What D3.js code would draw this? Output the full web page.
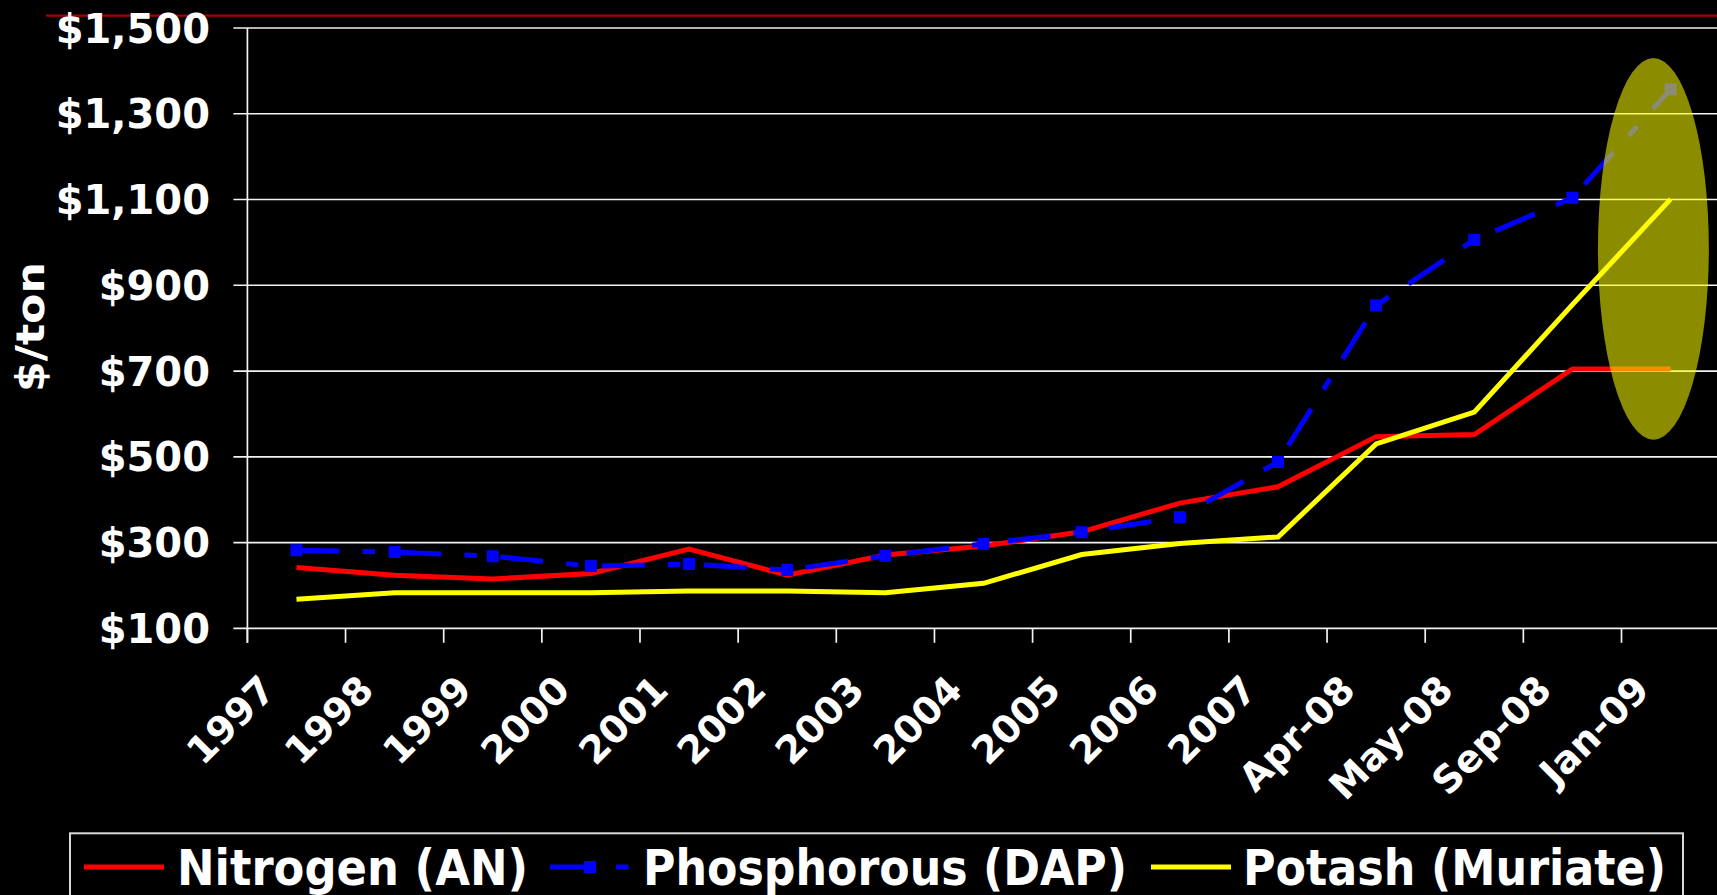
<!DOCTYPE html>
<html>
<head>
<meta charset="utf-8">
<script src="https://cdn.jsdelivr.net/npm/d3@7"></script>
<style>
  html, body { margin: 0; padding: 0; background: #000; overflow: hidden; }
  svg { display: block; }
  text { font-family: "DejaVu Sans", Verdana, sans-serif; font-weight: bold; fill: #fff; }
</style>
</head>
<body>
<svg id="chart" width="1717" height="895"></svg>
<script>
// ---- data ----
const categories = ["1997","1998","1999","2000","2001","2002","2003","2004","2005","2006","2007","Apr-08","May-08","Sep-08","Jan-09"];
const nitrogen    = [242, 224, 215, 228, 285, 224, 271, 292, 325, 392, 430, 547, 552, 705, 705];
const phosphorous = [282, 278, 268, 245, 250, 236, 269, 297, 324, 359, 488, 853, 1006, 1104, 1357];
const potash      = [168, 183, 183, 183, 187, 187, 183, 205, 272, 298, 313, 530, 604, 855, 1101];
const yTicks = [100, 300, 500, 700, 900, 1100, 1300, 1500];
const seriesNames = ["Nitrogen (AN)", "Phosphorous (DAP)", "Potash (Muriate)"];
const yTitle = "$/ton";
// highlighted region (annotation) in data terms
const highlightCategory = "Jan-09";
const highlightRange = [540, 1430];

// ---- layout ----
const svg = d3.select("#chart");
const W = 1717, H = 895;
const plotLeft = 247.4, bandStep = 98.15;
const x = d3.scaleBand().domain(categories).range([plotLeft, plotLeft + bandStep * categories.length]).padding(0);
const y = d3.scaleLinear().domain([100, 1500]).range([628.3, 28]);
const xc = c => x(c) + x.bandwidth() / 2;

svg.append("rect").attr("width", W).attr("height", H).attr("fill", "#000");

// top decorative red rule
svg.append("line").attr("x1", 46).attr("x2", W).attr("y1", 15.7).attr("y2", 15.7)
  .attr("stroke", "#a80000").attr("stroke-width", 2.2);

// gridlines + y ticks
svg.append("g").selectAll("line").data(yTicks).join("line")
  .attr("x1", plotLeft - 14).attr("x2", W)
  .attr("y1", d => y(d)).attr("y2", d => y(d))
  .attr("stroke", "#f2f2f2").attr("stroke-width", 1.7);

// y axis line
svg.append("line").attr("x1", plotLeft).attr("x2", plotLeft)
  .attr("y1", y(1500)).attr("y2", y(100) + 14.5)
  .attr("stroke", "#f2f2f2").attr("stroke-width", 1.7);

// x ticks at category boundaries
const bounds = categories.map(c => x(c)).concat([x(categories[categories.length-1]) + x.bandwidth()]);
svg.append("g").selectAll("line").data(bounds).join("line")
  .attr("x1", d => d).attr("x2", d => d)
  .attr("y1", y(100)).attr("y2", y(100) + 14.5)
  .attr("stroke", "#f2f2f2").attr("stroke-width", 1.7);

// y tick labels
const fmt = d3.format("$,");
svg.append("g").selectAll("text").data(yTicks).join("text")
  .attr("x", 210).attr("y", d => y(d) + 14.5)
  .attr("text-anchor", "end")
  .style("font-size", "40px")
  .text(d => fmt(d));

// y title
svg.append("text")
  .attr("transform", "translate(44,327) rotate(-90)")
  .attr("text-anchor", "middle")
  .attr("textLength", 130).attr("lengthAdjust", "spacingAndGlyphs")
  .style("font-size", "39px")
  .text(yTitle);

// x labels
svg.append("g").selectAll("text").data(categories).join("text")
  .attr("transform", c => `translate(${xc(c) - 19},692) rotate(-45)`)
  .attr("text-anchor", "end")
  .style("font-size", "38px")
  .text(c => c);

// series lines
const line = d3.line().x((d, i) => xc(categories[i])).y(d => y(d));
svg.append("path").datum(nitrogen).attr("d", line)
  .attr("fill", "none").attr("stroke", "#ff0000").attr("stroke-width", 5).attr("stroke-linejoin", "miter");
svg.append("path").datum(phosphorous).attr("d", line)
  .attr("fill", "none").attr("stroke", "#0000ff").attr("stroke-width", 5)
  .attr("stroke-dasharray", "43,23,12.5,23.5").attr("stroke-linecap", "butt");
svg.append("g").selectAll("rect").data(phosphorous).join("rect")
  .attr("x", (d, i) => xc(categories[i]) - 6).attr("y", d => y(d) - 6)
  .attr("width", 12).attr("height", 12).attr("fill", "#0000ff");
svg.append("path").datum(potash).attr("d", line)
  .attr("fill", "none").attr("stroke", "#ffff00").attr("stroke-width", 5).attr("stroke-linejoin", "miter");

// highlight ellipse
const hx0 = x(highlightCategory) - x.bandwidth() * 0.24;
const hx1 = x(highlightCategory) + x.bandwidth() * 0.89;
svg.append("ellipse")
  .attr("cx", (hx0 + hx1) / 2).attr("cy", (y(highlightRange[0]) + y(highlightRange[1])) / 2)
  .attr("rx", (hx1 - hx0) / 2).attr("ry", Math.abs(y(highlightRange[0]) - y(highlightRange[1])) / 2)
  .attr("fill", "#ffff00").attr("fill-opacity", 0.55);

// legend
const lg = svg.append("g");
lg.append("rect").attr("x", 70).attr("y", 833.3).attr("width", 1613).attr("height", 100)
  .attr("fill", "#000").attr("stroke", "#d8d8d8").attr("stroke-width", 2);
const legendItems = [
  { name: seriesNames[0], color: "#ff0000", x0: 84, tx: 177, tw: 351, dash: null, marker: false },
  { name: seriesNames[1], color: "#0000ff", x0: 550, tx: 643, tw: 484, dash: "43,23,12.5,23.5", marker: true },
  { name: seriesNames[2], color: "#ffff00", x0: 1151, tx: 1243, tw: 423, dash: null, marker: false }
];
legendItems.forEach(it => {
  const l = lg.append("line").attr("x1", it.x0).attr("x2", it.x0 + 80).attr("y1", 867).attr("y2", 867)
    .attr("stroke", it.color).attr("stroke-width", 5);
  if (it.dash) l.attr("stroke-dasharray", it.dash);
  if (it.marker) lg.append("rect").attr("x", it.x0 + 40 - 6).attr("y", 861).attr("width", 12).attr("height", 12).attr("fill", it.color);
  lg.append("text").attr("x", it.tx).attr("y", 885)
    .attr("textLength", it.tw).attr("lengthAdjust", "spacingAndGlyphs")
    .style("font-size", "49px").text(it.name);
});
</script>
</body>
</html>
